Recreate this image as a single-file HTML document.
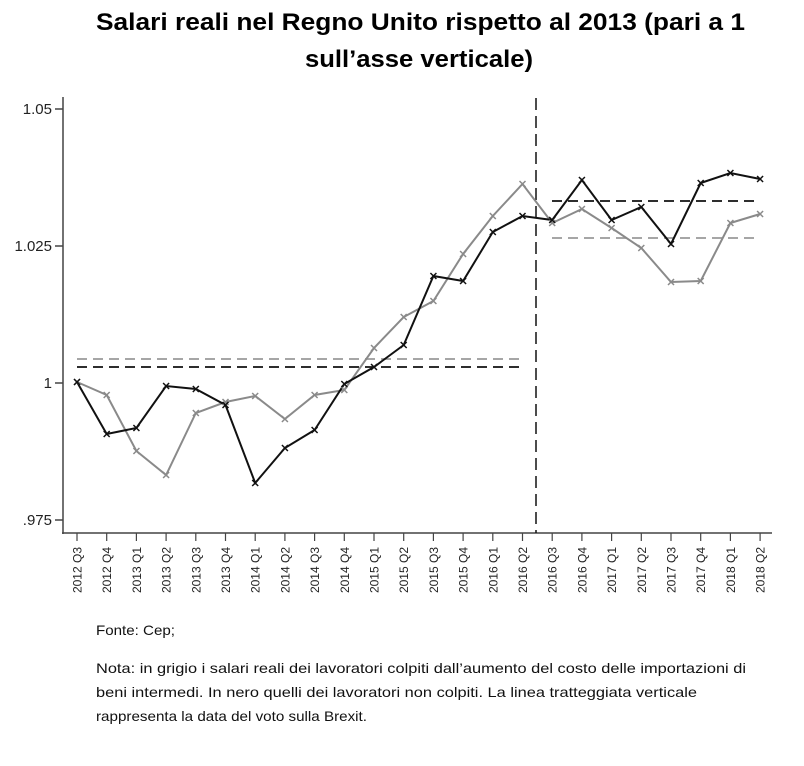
<!DOCTYPE html>
<html><head><meta charset="utf-8"><style>
body{margin:0;background:#fff;width:804px;height:761px;overflow:hidden;font-family:"Liberation Sans",Arial,sans-serif}
</style></head><body>
<svg width="804" height="761" xmlns="http://www.w3.org/2000/svg" font-family="Liberation Sans, Arial, sans-serif">
<text x="96" y="30" font-size="24" font-weight="bold" textLength="649" lengthAdjust="spacingAndGlyphs">Salari reali nel Regno Unito rispetto al 2013 (pari a 1</text>
<text x="305" y="67" font-size="24" font-weight="bold" textLength="228" lengthAdjust="spacingAndGlyphs">sull’asse verticale)</text>
<g stroke="#444" stroke-width="1.5">
<line x1="63" y1="97" x2="63" y2="534"/>
<line x1="62" y1="533" x2="772" y2="533"/>
<line x1="55" y1="109" x2="63" y2="109"/>
<line x1="55" y1="246" x2="63" y2="246"/>
<line x1="55" y1="383" x2="63" y2="383"/>
<line x1="55" y1="520" x2="63" y2="520"/>
</g>
<g font-size="15" text-anchor="end" fill="#222">
<text x="52" y="114">1.05</text>
<text x="52" y="251">1.025</text>
<text x="52" y="388">1</text>
<text x="52" y="525">.975</text>
</g>
<g id="ticks" stroke="#444" stroke-width="1.2"></g>
<g id="labs" font-size="12" fill="#222"></g>
<g stroke-dasharray="10,6" stroke-width="1.8" fill="none">
<line x1="77" y1="359" x2="521" y2="359" stroke="#999"/>
<line x1="77" y1="367" x2="521" y2="367" stroke="#111"/>
<line x1="552" y1="201" x2="759" y2="201" stroke="#111"/>
<line x1="552" y1="238" x2="759" y2="238" stroke="#999"/>
<line x1="536" y1="98" x2="536" y2="533" stroke="#111" stroke-width="1.5" stroke-dasharray="12,6"/>
</g>
<polyline id="gray" fill="none" stroke="#8a8a8a" stroke-width="2"/>
<polyline id="black" fill="none" stroke="#111" stroke-width="2"/>
<g id="marks"></g>
<g font-size="14" fill="#111">
<text x="96" y="635" textLength="79" lengthAdjust="spacingAndGlyphs">Fonte: Cep;</text>
<text x="96" y="673" textLength="650" lengthAdjust="spacingAndGlyphs">Nota: in grigio i salari reali dei lavoratori colpiti dall’aumento del costo delle importazioni di</text>
<text x="96" y="697" textLength="601" lengthAdjust="spacingAndGlyphs">beni intermedi. In nero quelli dei lavoratori non colpiti. La linea tratteggiata verticale</text>
<text x="96" y="721" textLength="271" lengthAdjust="spacingAndGlyphs">rappresenta la data del voto sulla Brexit.</text>
</g>
</svg>
<script>
var ns="http://www.w3.org/2000/svg";
var B=[382,434,428,386,389,405,483,448,430,384,367,345,276,281,232,216,220,180,220,207,244,183,173,179];
var G=[382,395,451,475,413,402,396,419,395,390,348,317,301,254,216,184,223,209,228,248,282,281,223,214];
var labels=[];var y=2012,q=3;
for(var i=0;i<24;i++){labels.push(y+" Q"+q);q++;if(q>4){q=1;y++;}}
function X(i){return 77+i*29.7;}
var t=document.getElementById("ticks"),l=document.getElementById("labs"),m=document.getElementById("marks");
for(var i=0;i<24;i++){var x=X(i);
var ln=document.createElementNS(ns,"line");ln.setAttribute("x1",x);ln.setAttribute("x2",x);ln.setAttribute("y1",533);ln.setAttribute("y2",541);t.appendChild(ln);
var tx=document.createElementNS(ns,"text");tx.setAttribute("transform","translate("+(x+4.5)+",547) rotate(-90)");tx.setAttribute("text-anchor","end");tx.textContent=labels[i];l.appendChild(tx);}
function pl(id,a,c){document.getElementById(id).setAttribute("points",a.map(function(v,i){return X(i)+","+v}).join(" "));
a.forEach(function(v,i){var x=X(i);[[-3,-3,3,3],[-3,3,3,-3]].forEach(function(d){var e=document.createElementNS(ns,"line");e.setAttribute("x1",x+d[0]);e.setAttribute("y1",v+d[1]);e.setAttribute("x2",x+d[2]);e.setAttribute("y2",v+d[3]);e.setAttribute("stroke",c);e.setAttribute("stroke-width","1.5");m.appendChild(e);});});}
pl("gray",G,"#8a8a8a");pl("black",B,"#111");
</script>
</body></html>
